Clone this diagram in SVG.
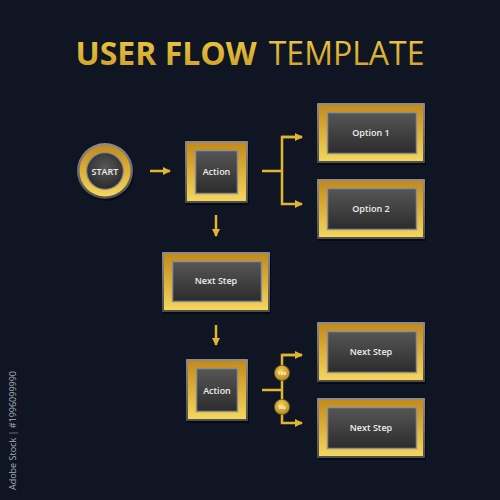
<svg xmlns="http://www.w3.org/2000/svg" width="500" height="500" viewBox="0 0 500 500">
<defs>
<linearGradient id="gold" x1="0" y1="0" x2="0" y2="1">
<stop offset="0" stop-color="#C38A1C"/>
<stop offset="0.5" stop-color="#DDB038"/>
<stop offset="1" stop-color="#F4D65E"/>
</linearGradient>
<linearGradient id="goldT" x1="0" y1="0" x2="0" y2="1">
<stop offset="0" stop-color="#F2CE48"/>
<stop offset="1" stop-color="#C99A26"/>
</linearGradient>
<linearGradient id="rim" x1="0" y1="0" x2="0" y2="1">
<stop offset="0" stop-color="#8C8C8C"/>
<stop offset="1" stop-color="#4E4E4E"/>
</linearGradient>
<linearGradient id="dark" x1="0" y1="0" x2="0" y2="1">
<stop offset="0" stop-color="#565656"/>
<stop offset="1" stop-color="#2C2C2C"/>
</linearGradient>
<radialGradient id="darkC" cx="0.5" cy="0.4" r="0.6">
<stop offset="0" stop-color="#575757"/>
<stop offset="1" stop-color="#2C2C2C"/>
</radialGradient>
<radialGradient id="ball" cx="0.45" cy="0.35" r="0.7">
<stop offset="0" stop-color="#F2D052"/>
<stop offset="1" stop-color="#B8861C"/>
</radialGradient>
<marker id="ah" markerWidth="8" markerHeight="8" refX="7" refY="4" orient="auto" markerUnits="userSpaceOnUse">
<path d="M0,0 L8,4 L0,8 Z" fill="#E2B434"/>
</marker>
<style>
.rim{fill:url(#rim);}
.frame{fill:url(#gold);}
.inner{fill:url(#dark);stroke:#8E8E8E;stroke-width:1.5;}
.shadow{fill:#05080F;opacity:0.8;}
.lbl{font-family:"Open Sans","Noto Sans","Liberation Sans",sans-serif;font-size:9px;font-weight:600;fill:#EDEDED;text-anchor:middle;}
.con{fill:none;stroke:#E2B434;stroke-width:2.5;}
.ballT{font-family:"Open Sans","Noto Sans","Liberation Sans",sans-serif;font-size:5px;font-weight:700;fill:#FFF6D8;text-anchor:middle;}
</style>
</defs>
<rect width="500" height="500" fill="#0F1523"/>

<text x="250" y="65" font-family="'Open Sans','Noto Sans','Liberation Sans',sans-serif" font-size="32" fill="url(#goldT)" text-anchor="middle"><tspan font-weight="700">USER FLOW</tspan><tspan font-weight="400" dx="12">TEMPLATE</tspan></text>

<text transform="translate(16,490) rotate(-90)" font-family="'Open Sans','Noto Sans','Liberation Sans',sans-serif" font-size="9" fill="#A9ADB5">Adobe Stock | #1996099990</text>

<g id="connectors">
<path class="con" d="M150,171 H170" marker-end="url(#ah)"/>
<path class="con" d="M262,171 H282"/>
<path class="con" d="M302,137 H282 V204 H302" marker-end="url(#ah)"/>
<path class="con" d="M282,137 H302" marker-end="url(#ah)"/>
<path class="con" d="M216,215 V236" marker-end="url(#ah)"/>
<path class="con" d="M216,325 V345" marker-end="url(#ah)"/>
<path class="con" d="M262,390 H282"/>
<path class="con" d="M302,355 H282 V423 H302" marker-end="url(#ah)"/>
<path class="con" d="M282,355 H302" marker-end="url(#ah)"/>
</g>

<g id="start">
<circle cx="106" cy="173" r="28" class="shadow"/>
<circle cx="105" cy="171" r="28" fill="url(#rim)"/>
<circle cx="105" cy="171" r="25.5" fill="url(#gold)"/>
<circle cx="105" cy="171" r="19" fill="#8A8A8A"/>
<circle cx="105" cy="171" r="17.8" fill="url(#darkC)"/>
<text x="105" y="174.5" class="lbl" font-weight="700">START</text>
</g>

<g id="action1">
<rect x="186" y="143" width="63" height="62" class="shadow"/>
<rect x="185" y="141" width="63" height="62" rx="1" class="rim"/>
<rect x="187" y="143" width="59" height="58" class="frame"/>
<rect x="195.5" y="150.5" width="42" height="43" class="inner"/>
<text x="216.5" y="174.5" class="lbl">Action</text>
</g>

<g id="option1">
<rect x="318" y="105" width="108" height="60" class="shadow"/>
<rect x="317" y="103" width="108" height="60" rx="1" class="rim"/>
<rect x="319" y="105" width="104" height="56" class="frame"/>
<rect x="327.5" y="112.5" width="89" height="41" class="inner"/>
<text x="371" y="135.5" class="lbl">Option 1</text>
</g>

<g id="option2">
<rect x="318" y="181" width="108" height="60" class="shadow"/>
<rect x="317" y="179" width="108" height="60" rx="1" class="rim"/>
<rect x="319" y="181" width="104" height="56" class="frame"/>
<rect x="327.5" y="188.5" width="89" height="41" class="inner"/>
<text x="371" y="212" class="lbl">Option 2</text>
</g>

<g id="nextstep1">
<rect x="163" y="254" width="108" height="60" class="shadow"/>
<rect x="162" y="252" width="108" height="60" rx="1" class="rim"/>
<rect x="164" y="254" width="104" height="56" class="frame"/>
<rect x="172.5" y="261.5" width="89" height="40" class="inner"/>
<text x="216" y="284" class="lbl">Next Step</text>
</g>

<g id="action2">
<rect x="187" y="361" width="62" height="62" class="shadow"/>
<rect x="186" y="359" width="62" height="62" rx="1" class="rim"/>
<rect x="188" y="361" width="58" height="58" class="frame"/>
<rect x="196.5" y="368.5" width="41" height="43" class="inner"/>
<text x="217" y="393.5" class="lbl">Action</text>
</g>

<g id="yes">
<circle cx="282" cy="373" r="8" fill="#6B5A2A"/>
<circle cx="282" cy="373" r="7.2" fill="url(#ball)"/>
<text x="282" y="375" class="ballT">Yes</text>
</g>

<g id="no">
<circle cx="282" cy="407" r="8" fill="#6B5A2A"/>
<circle cx="282" cy="407" r="7.2" fill="url(#ball)"/>
<text x="282" y="409" class="ballT">No</text>
</g>

<g id="nextstep2">
<rect x="318" y="324" width="108" height="60" class="shadow"/>
<rect x="317" y="322" width="108" height="60" rx="1" class="rim"/>
<rect x="319" y="324" width="104" height="56" class="frame"/>
<rect x="327.5" y="331.5" width="89" height="41" class="inner"/>
<text x="371" y="354.5" class="lbl">Next Step</text>
</g>

<g id="nextstep3">
<rect x="318" y="400" width="108" height="60" class="shadow"/>
<rect x="317" y="398" width="108" height="60" rx="1" class="rim"/>
<rect x="319" y="400" width="104" height="56" class="frame"/>
<rect x="327.5" y="407.5" width="89" height="41" class="inner"/>
<text x="371" y="430.5" class="lbl">Next Step</text>
</g>
</svg>
